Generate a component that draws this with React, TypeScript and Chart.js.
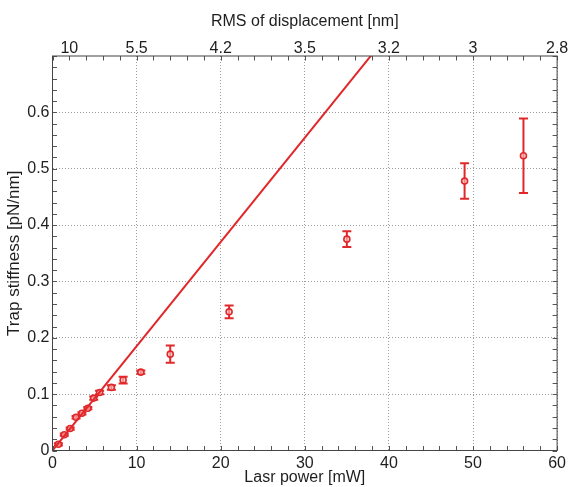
import { useEffect, useRef } from "react";
import { Chart, registerables } from "chart.js";

Chart.register(...registerables);

// ---- data ----
const powerMW = [0.7, 1.4, 2.1, 2.8, 3.5, 4.2, 4.9, 5.6, 7, 8.4, 10.5, 14, 21, 35, 49, 56];
const stiffness = [0.011, 0.028, 0.039, 0.059, 0.066, 0.075, 0.093, 0.103, 0.112, 0.125, 0.139, 0.171, 0.246, 0.375, 0.478, 0.523];
const stiffnessErr = [0.002, 0.002, 0.002, 0.002, 0.002, 0.002, 0.003, 0.003, 0.004, 0.006, 0.003, 0.0155, 0.0115, 0.014, 0.0315, 0.066];
const fitPower = [0, 40];
const fitStiffness = [0, 0.74];
const xTickValues = [0, 10, 20, 30, 40, 50, 60];
const yTickValues = [0, 0.1, 0.2, 0.3, 0.4, 0.5, 0.6];
const topTickPower = [2, 10, 20, 30, 40, 50, 60];
const topTickLabels = ["10", "5.5", "4.2", "3.5", "3.2", "3", "2.8"];
const minorXStep = 2;
const minorYStep = 0.02;

const RED = "#e0282a";
const TEXT = "#1e1e1e";
const FONT = "'Liberation Sans', Arial, Helvetica, sans-serif";

const overlay = {
  id: "overlay",
  beforeDatasetsDraw(chart: any) {
    const { ctx, scales } = chart;
    const x = scales.x;
    const y = scales.y;
    ctx.save();
    ctx.strokeStyle = RED;
    ctx.lineWidth = 2;
    powerMW.forEach((p, i) => {
      const px = x.getPixelForValue(p);
      const y1 = y.getPixelForValue(stiffness[i] - stiffnessErr[i]);
      const y2 = y.getPixelForValue(stiffness[i] + stiffnessErr[i]);
      ctx.beginPath();
      ctx.moveTo(px, y1);
      ctx.lineTo(px, y2);
      ctx.moveTo(px - 4.5, y1);
      ctx.lineTo(px + 4.5, y1);
      ctx.moveTo(px - 4.5, y2);
      ctx.lineTo(px + 4.5, y2);
      ctx.stroke();
    });
    ctx.restore();
  },
  afterDatasetsDraw(chart: any) {
    const { ctx, chartArea, scales } = chart;
    const { left, right, top, bottom } = chartArea;
    const x = scales.x;
    const y = scales.y;
    ctx.save();
    ctx.strokeStyle = "#555";
    ctx.lineWidth = 1;
    const tl = 4.5;
    ctx.beginPath();
    for (let v = x.min; v <= x.max + 1e-9; v += minorXStep) {
      const px = Math.round(x.getPixelForValue(v)) + 0.5;
      ctx.moveTo(px, bottom);
      ctx.lineTo(px, bottom - tl);
      ctx.moveTo(px, top);
      ctx.lineTo(px, top + tl);
    }
    for (let v = y.min; v <= y.max + 1e-9; v += minorYStep) {
      const py = Math.round(y.getPixelForValue(v)) + 0.5;
      ctx.moveTo(left, py);
      ctx.lineTo(left + tl, py);
      ctx.moveTo(right, py);
      ctx.lineTo(right - tl, py);
    }
    ctx.stroke();
    ctx.strokeStyle = "#444";
    ctx.strokeRect(left, top, right - left, bottom - top);
    ctx.restore();
  },
};

export default function App() {
  const ref = useRef<HTMLCanvasElement | null>(null);

  useEffect(() => {
    if (!ref.current) return;
    const tickFont = { family: FONT, size: 16 };
    const titleFont = { family: FONT, size: 16 };
    const chart = new Chart(ref.current, {
      type: "scatter",
      data: {
        datasets: [
          {
            type: "line",
            data: fitPower.map((p, i) => ({ x: p, y: fitStiffness[i] })),
            borderColor: RED,
            borderWidth: 2,
            pointRadius: 0,
            fill: false,
          } as any,
          {
            type: "scatter",
            data: powerMW.map((p, i) => ({ x: p, y: stiffness[i] })),
            borderColor: RED,
            backgroundColor: "rgba(255,200,200,0.6)",
            borderWidth: 1.6,
            pointRadius: 3,
            pointStyle: "circle",
          },
        ],
      },
      options: {
        responsive: false,
        animation: false,
        devicePixelRatio: 1,
        layout: { padding: { left: 0, right: 11.5, top: 0, bottom: 0 } },
        plugins: { legend: { display: false }, tooltip: { enabled: false } },
        scales: {
          x: {
            type: "linear",
            position: "bottom",
            min: 0,
            max: 60,
            afterBuildTicks: (s: any) => {
              s.ticks = xTickValues.map((v) => ({ value: v }));
            },
            ticks: { padding: 3, color: TEXT, font: tickFont, maxRotation: 0, autoSkip: false },
            grid: { color: "#9c9c9c", lineWidth: 1, drawTicks: false },
            border: { display: false, dash: [1, 2] },
            title: { display: true, text: "Lasr power [mW]", color: TEXT, font: titleFont, padding: 0 },
            afterFit: (s: any) => {
              s.height = 36.5;
            },
          },
          x2: {
            type: "linear",
            axis: "x",
            position: "top",
            min: 0,
            max: 60,
            afterBuildTicks: (s: any) => {
              s.ticks = topTickPower.map((v) => ({ value: v }));
            },
            ticks: {
              padding: -1,
              color: TEXT,
              font: { family: FONT, size: 16, lineHeight: 1 },
              maxRotation: 0,
              autoSkip: false,
              callback: (_v: any, i: number) => topTickLabels[i],
            },
            grid: { display: false, drawTicks: false },
            border: { display: false },
            title: { display: true, text: "RMS of displacement [nm]", color: TEXT, font: titleFont, padding: { top: 12, bottom: 0 } },
            afterFit: (s: any) => {
              s.height = 56;
            },
          },
          y: {
            type: "linear",
            position: "left",
            min: 0,
            max: 0.7,
            afterBuildTicks: (s: any) => {
              s.ticks = yTickValues.map((v) => ({ value: v }));
            },
            ticks: { padding: 3, color: TEXT, font: tickFont, autoSkip: false, callback: (v: any) => String(v) },
            grid: { color: "#9c9c9c", lineWidth: 1, drawTicks: false },
            border: { display: false, dash: [1, 2] },
            title: { display: true, text: "Trap stiffness [pN/nm]", color: TEXT, font: { family: FONT, size: 17 }, padding: { top: 4, bottom: 0 } },
            afterFit: (s: any) => {
              s.width = 52.5;
            },
          },
        },
      } as any,
      plugins: [overlay],
    });
    return () => chart.destroy();
  }, []);

  return (
    <div style={{ position: "fixed", left: 0, top: 0, width: 569, height: 487, background: "#fff" }}>
      <canvas ref={ref} width={569} height={487} style={{ display: "block", width: 569, height: 487 }} />
    </div>
  );
}
